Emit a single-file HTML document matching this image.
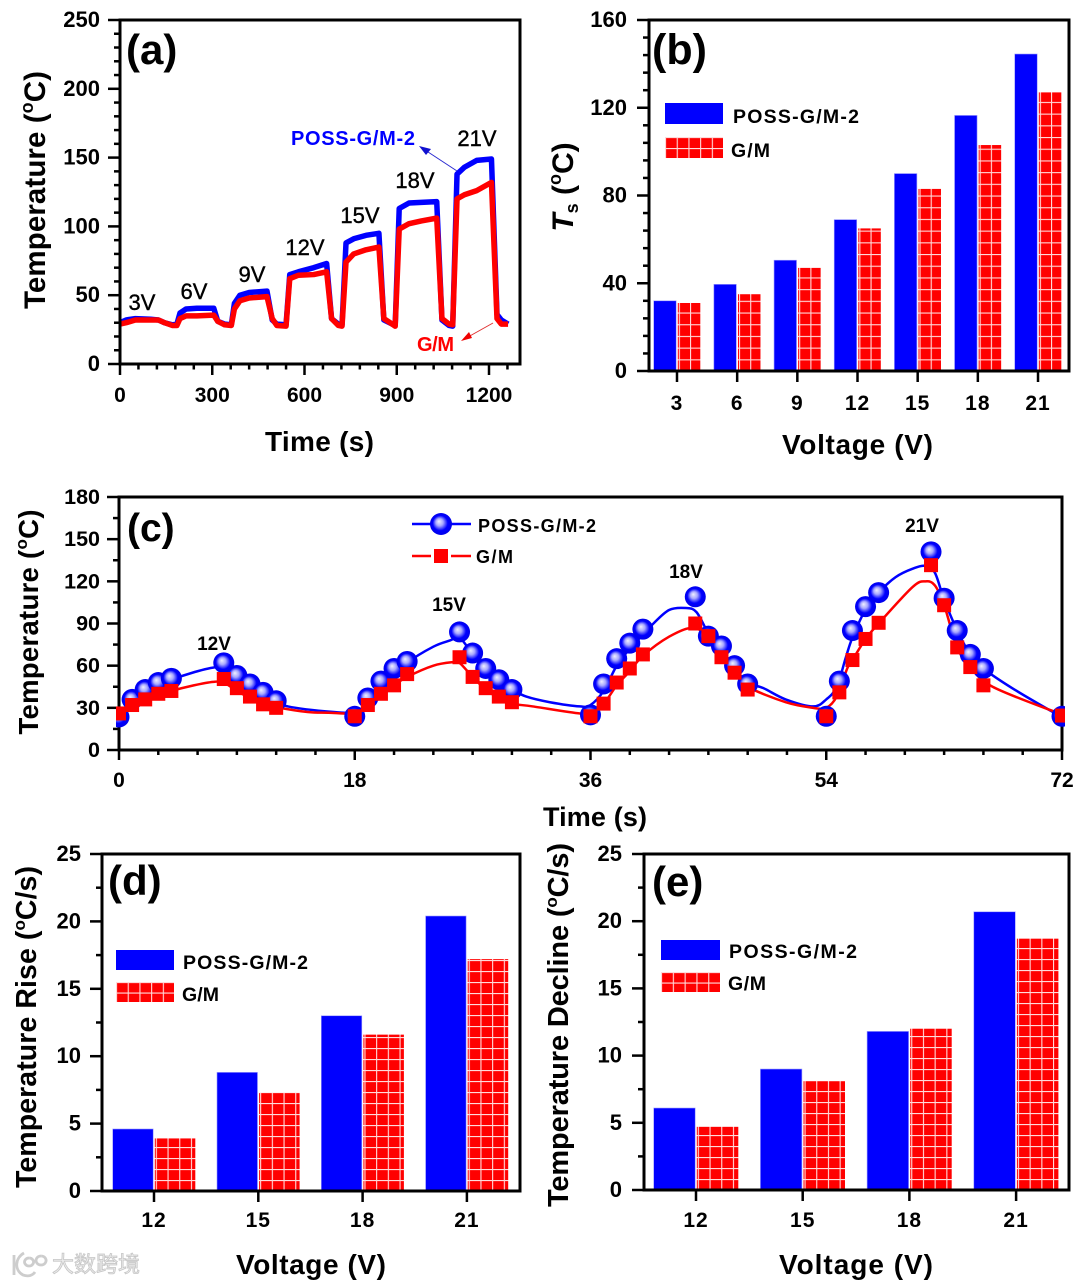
<!DOCTYPE html>
<html lang="en">
<head>
<meta charset="utf-8">
<title>Temperature response of POSS-G/M-2 and G/M</title>
<style>
html,body{margin:0;padding:0;background:#fff;}
svg{display:block;}
text{font-family:"Liberation Sans","Noto Sans CJK SC",sans-serif;font-weight:bold;fill:#000;}
.reg{font-weight:normal;stroke:#000;stroke-width:.4;}
</style>
</head>
<body>
<svg id="fig" xmlns="http://www.w3.org/2000/svg" width="1080" height="1284" viewBox="0 0 1080 1284">
  <defs>
    <radialGradient id="ball" cx="50%" cy="50%" r="52%" fx="40%" fy="38%">
      <stop offset="0" stop-color="#f0f0ff"/>
      <stop offset=".32" stop-color="#a8a8ff"/>
      <stop offset=".66" stop-color="#0000ff"/>
      <stop offset="1" stop-color="#0000e8"/>
    </radialGradient>
    <clipPath id="clipC"><rect x="116" y="490" width="949" height="263"/></clipPath>
  </defs>
  <rect width="1080" height="1284" fill="#fff"/>

  <g id="pa"></g>
  <g id="pb"></g>
  <g id="pc"></g>
  <g id="pd"></g>
  <g id="pe"></g>

  <g id="labels">
    <!-- panel a -->
    <text x="126" y="64" font-size="42">(a)</text>
    <text transform="translate(45,190) rotate(-90)" text-anchor="middle" font-size="29.500" textLength="238" lengthAdjust="spacing">Temperature (<tspan font-size="18" dy="-12">o</tspan><tspan dy="12">C)</tspan></text>
    <text x="265" y="451" font-size="28" textLength="109" lengthAdjust="spacing">Time (s)</text>
    <text class="reg" x="142" y="310" text-anchor="middle" font-size="22">3V</text>
    <text class="reg" x="194" y="299" text-anchor="middle" font-size="22">6V</text>
    <text class="reg" x="252" y="282" text-anchor="middle" font-size="22">9V</text>
    <text class="reg" x="305" y="255" text-anchor="middle" font-size="22">12V</text>
    <text class="reg" x="360" y="223" text-anchor="middle" font-size="22">15V</text>
    <text class="reg" x="415" y="188" text-anchor="middle" font-size="22">18V</text>
    <text class="reg" x="477" y="146" text-anchor="middle" font-size="22">21V</text>
    <text x="291" y="145" font-size="20" style="fill:#0000ff" textLength="124" lengthAdjust="spacing">POSS-G/M-2</text>
    <text x="417" y="351" font-size="20" style="fill:#ff0000" textLength="37" lengthAdjust="spacing">G/M</text>
    <path d="M457 171L425 150" stroke="#2a2ad0" stroke-width="1" fill="none"/>
    <path d="M419 146L431 149L426 155Z" fill="#1010d0"/>
    <path d="M493 323L468 337" stroke="#e03030" stroke-width="1" fill="none"/>
    <path d="M461 341L469 332L472 338Z" fill="#f00000"/>

    <!-- panel b -->
    <text x="652" y="64" font-size="43">(b)</text>
    <text transform="translate(573,187) rotate(-90)" text-anchor="middle" font-size="30"><tspan font-style="italic">T</tspan><tspan font-size="18" dy="5">s</tspan><tspan dy="-5"> (</tspan><tspan font-size="18" dy="-12">o</tspan><tspan dy="12">C)</tspan></text>
    <text x="782" y="454" font-size="28" textLength="151" lengthAdjust="spacing">Voltage (V)</text>
    <rect x="665" y="103" width="58" height="21" fill="#0000ff"/>
    <rect id="lgb" x="665" y="137" width="58" height="21" fill="#ff0000"/>
    <text x="733" y="123" font-size="19.500" textLength="126" lengthAdjust="spacing">POSS-G/M-2</text>
    <text x="731" y="157" font-size="19.500" textLength="39" lengthAdjust="spacing">G/M</text>

    <!-- panel c -->
    <text x="127" y="541" font-size="39">(c)</text>
    <text transform="translate(38,622) rotate(-90)" text-anchor="middle" font-size="27.500" textLength="225" lengthAdjust="spacing">Temperature (<tspan font-size="17" dy="-11">o</tspan><tspan dy="11">C)</tspan></text>
    <text x="543" y="826" font-size="27" textLength="104" lengthAdjust="spacing">Time (s)</text>
    <path d="M412 524H471" stroke="#0000ff" stroke-width="2.5"/>
    <circle cx="441" cy="524" r="11" fill="url(#ball)"/>
    <path d="M412 556H431M451 556H471" stroke="#ff0000" stroke-width="2.5"/>
    <rect x="434" y="549" width="14" height="14" fill="#ff0000"/>
    <text x="478" y="532" font-size="18" textLength="118" lengthAdjust="spacing">POSS-G/M-2</text>
    <text x="476" y="563" font-size="18" textLength="37" lengthAdjust="spacing">G/M</text>
    <text x="214" y="650" text-anchor="middle" font-size="19">12V</text>
    <text x="449" y="611" text-anchor="middle" font-size="19">15V</text>
    <text x="686" y="578" text-anchor="middle" font-size="19">18V</text>
    <text x="922" y="532" text-anchor="middle" font-size="19">21V</text>

    <!-- panel d -->
    <text x="108" y="895" font-size="42">(d)</text>
    <text transform="translate(36,1027) rotate(-90)" text-anchor="middle" font-size="28.500" textLength="322" lengthAdjust="spacing">Temperature Rise (<tspan font-size="17" dy="-11">o</tspan><tspan dy="11">C/s)</tspan></text>
    <text x="236" y="1274" font-size="28" textLength="150" lengthAdjust="spacing">Voltage (V)</text>
    <rect x="116" y="950" width="58" height="20" fill="#0000ff"/>
    <rect id="lgd" x="116" y="982" width="58" height="20" fill="#ff0000"/>
    <text x="183" y="969" font-size="19.500" textLength="125" lengthAdjust="spacing">POSS-G/M-2</text>
    <text x="182" y="1001" font-size="19.500" textLength="37" lengthAdjust="spacing">G/M</text>

    <!-- panel e -->
    <text x="652" y="896" font-size="42">(e)</text>
    <text transform="translate(568,1025) rotate(-90)" text-anchor="middle" font-size="29" textLength="364" lengthAdjust="spacing">Temperature Decline (<tspan font-size="17" dy="-11">o</tspan><tspan dy="11">C/s)</tspan></text>
    <text x="779" y="1274" font-size="28" textLength="154" lengthAdjust="spacing">Voltage (V)</text>
    <rect x="661" y="940" width="59" height="20" fill="#0000ff"/>
    <rect id="lge" x="661" y="972" width="59" height="20" fill="#ff0000"/>
    <text x="729" y="958" font-size="19.500" textLength="128" lengthAdjust="spacing">POSS-G/M-2</text>
    <text x="728" y="990" font-size="19.500" textLength="38" lengthAdjust="spacing">G/M</text>

    <!-- watermark -->
    <g>
      <path d="M14 1255v20M24 1253c-9 5-10 17-1 22c6 2 10 0 12-3M29 1258a4.500 4 0 1 0 .1 0M41 1256a5 4.500 0 1 0 .1 0" fill="none" stroke="#cdcdcd" stroke-width="2.800"/>
      <text x="52" y="1272" font-size="22" style="fill:#ececec;stroke:#c6c6c6;stroke-width:.8;font-weight:normal" textLength="88" lengthAdjust="spacing">大数跨境</text>
    </g>
  </g>
</svg>

<script>
// ---------- Panel (a) data ----------
const timeA = [0,20,50,100,125,145,170,185,195,215,250,305,318,340,362,372,390,420,478,495,510,540,552,580,630,672,688,710,722,735,760,800,842,858,885,895,908,940,980,1030,1047,1070,1082,1096,1120,1160,1208,1226,1240,1262];
const blueA = [30,32,33,32.5,32,30,28.5,29,37,40,40.5,40.5,31,29,28.5,44,50,52,53,32,29,28.5,65,67,70,73,33,29,28.5,88,91,93.5,95,32,29,28.5,113,117,117.5,118,32,28,27.5,138,143,148,149,36,32,29];
const redA = [29,30,32,32,32,30,28,28,33,35,35,35.5,31,28.5,28,40,46,48,49,33,28,27.5,62,64.5,65,67,33,28,27.5,74,80,83,85,33,29,27.5,98,102,104,106,33,29,28.5,120,123,126,132,33,29,29];
const xTicksA = [0,300,600,900,1200];
const yTicksA = [0,50,100,150,200,250];

// ---------- Panel (b) data ----------
const voltagesB = ['3','6','9','12','15','18','21'];
const blueB = [32,39.5,50.5,69,90,116.5,144.5];
const redB = [31,35,47,65,83,103,127];
const yTicksB = [0,40,80,120,160];

// ---------- Panel (c) data ----------
const timeC = [0,1,2,3,4,8,9,10,11,12,18,19,20,21,22,26,27,28,29,30,36,37,38,39,40,44,45,46,47,48,54,55,56,57,58,62,63,64,65,66,72];
const blueC = [23.5,36,43,48,51,62,53,47,41,35,24,37,49,58,63,84,69,58,50,43,25,47,65,76,86,109,81,74,60,47,24,49,85,102,112,141,108,85,68,58,24];
const redC = [26,32,36,40,42,50.5,44,38,32.5,30,24,32,40,46,54,66,52,44,38,34,24,33,48,58,68,90,81,66,55,43,24,41,64,79,90.5,131.5,103,73,59,46,24.5];
const fitTimeBlueC = [0,1,2,4,7.5,9,10,11,12,12.9,16.4,18,19,20,21,22,24,25.3,26,27,28,29,30,31.1,32.9,35.2,36,37,38,39,40,40.7,42,43.3,44.1,45,46,47,48,49.2,50.9,53,54,54.8,55.5,56,57,58,59.3,60.6,61.6,62.3,63,64,65,66,68.2,71.500,72];
const fitBlueC = [26,34,40,50,59,53,47,41,36,31,27,27,32,44,52,62,73.5,78,80,68,56,49,43,38,34,31,32,42,60,72,82,89,99.6,101,98,83,70,58,48,44,36,31,36,45,66,80,100,112,123,129,131,126,107,85,68,58,44,26,24];
const fitTimeRedC = [0,2,4,5.700,7.200,8,9,10,11,12,14.400,16,18,19,20,21,22,24,25.500,26,27,28,29,30,31.600,35.200,36,37,38,39,40,42,43.800,45,46,47,48,50.900,53,54,54.800,55.600,56,57,58,60.600,61.600,62.300,63,64,65,66.700,71.500,72];
const fitRedC = [28,36,42,46,48.5,48,42,37,33,30.5,27,26.5,26,30,38,46,52,60,62.5,62,52,43,37,33,31,26,28,33,46,56,67,80.6,87,80,66,55,45,34,30,30,38,58,64,79,90,116,120,117,103,73,59,45,27,26];
const xTicksC = [0,18,36,54,72];
const yTicksC = [0,30,60,90,120,150,180];

// ---------- Panel (d) data ----------
const voltagesD = ['12','15','18','21'];
const blueD = [4.6,8.8,13,20.4];
const redD = [3.9,7.3,11.6,17.2];
const yTicksD = [0,5,10,15,20,25];

// ---------- Panel (e) data ----------
const voltagesE = ['12','15','18','21'];
const blueE = [6.1,9,11.8,20.7];
const redE = [4.7,8.1,12,18.7];
const yTicksE = [0,5,10,15,20,25];

const NS = 'http://www.w3.org/2000/svg';
function mk(parent, tag, attrs){
  const el = document.createElementNS(NS, tag);
  for (const k in attrs) el.setAttribute(k, attrs[k]);
  
  parent.appendChild(el);
  return el;
}

// Axis scale builders
function linear(d0, d1, r0, r1){ return v => r0 + (v - d0) * (r1 - r0) / (d1 - d0); }

function drawFrame(g, L, T, R, B){
  const el = mk(g, 'rect', {x:L, y:T, width:R-L, height:B-T, fill:'none', stroke:'#000', 'stroke-width':3});
  
}
function yAxis(g, y, L, ticks, minorStep, fs, labelX, maj, labelShift){
  const top = ticks[ticks.length-1];
  for (let v = ticks[0]; v <= top + 1e-6; v += minorStep){
    const isMajor = ticks.some(t => Math.abs(t - v) < 1e-6);
    const len = isMajor ? maj : maj / 2;
    const tick = mk(g, 'path', {d:`M${L} ${y(v)}H${L-len}`, stroke:'#000', 'stroke-width':2.5});
    
  }
  ticks.forEach(v => {
    const t = mk(g, 'text', {x:labelX, y:y(v)+labelShift, 'text-anchor':'end', 'font-size':fs});
    
    t.textContent = v;
  });
}
function xAxisLinear(g, x, B, ticks, minorStep, maxV, fs, labelY, maj){
  for (let v = ticks[0]; v <= maxV + 1e-6; v += minorStep){
    const isMajor = ticks.some(t => Math.abs(t - v) < 1e-6);
    const tick = mk(g, 'path', {d:`M${x(v)} ${B}V${B+(isMajor?maj:maj/2)}`, stroke:'#000', 'stroke-width':2.5});
    
  }
  ticks.forEach(v => {
    const t = mk(g, 'text', {x:x(v), y:labelY, 'text-anchor':'middle', 'font-size':fs});
    
    t.textContent = v;
  });
}
let patId = 0;
function gridFill(x, y, cw, ch){
  patId++;
  const defs = document.querySelector('defs');
  const p = document.createElementNS(NS, 'pattern');
  p.setAttribute('id', 'grid' + patId);
  p.setAttribute('patternUnits', 'userSpaceOnUse');
  p.setAttribute('x', x);
  p.setAttribute('y', y);
  p.setAttribute('width', cw);
  p.setAttribute('height', ch);
  const bg = document.createElementNS(NS, 'rect');
  bg.setAttribute('width', cw);
  bg.setAttribute('height', ch);
  bg.setAttribute('fill', '#ff0000');
  p.appendChild(bg);
  const ln = document.createElementNS(NS, 'path');
  ln.setAttribute('d', `M0 0.5H${cw}M0.5 0V${ch}`);
  ln.setAttribute('stroke', '#ffdada');
  ln.setAttribute('stroke-width', 1.2);
  p.appendChild(ln);
  defs.appendChild(p);
  return 'url(#grid' + patId + ')';
}
function barPanel(g, cats, blue, red, y, B, cx, barW, gap, fs, labelY, cw, ch){
  cats.forEach((c, i) => {
    const xc = cx(i);
    const bb = mk(g, 'rect', {x:xc-barW-gap, y:y(blue[i]), width:barW, height:B-y(blue[i]), fill:'#0000ff', stroke:'#9a9aff', 'stroke-width':.6});
    
    const rx = xc + gap;
    const rb = mk(g, 'rect', {x:rx, y:y(red[i]), width:barW, height:B-y(red[i]), fill:gridFill(rx-cw+1, B, cw, ch)});
    
    const tick = mk(g, 'path', {d:`M${xc} ${B}V${B+11}`, stroke:'#000', 'stroke-width':2.5});
    
    const t = mk(g, 'text', {x:xc, y:labelY, 'text-anchor':'middle', 'font-size':fs, 'letter-spacing':1});
    
    t.textContent = c;
  });
}
function smooth(xs, ys){
  let d = `M${xs[0]} ${ys[0]}`;
  for (let i = 0; i < xs.length-1; i++){
    const x0 = xs[Math.max(i-1,0)], y0 = ys[Math.max(i-1,0)];
    const x1 = xs[i], y1 = ys[i], x2 = xs[i+1], y2 = ys[i+1];
    const x3 = xs[Math.min(i+2,xs.length-1)], y3 = ys[Math.min(i+2,ys.length-1)];
    d += `C${x1+(x2-x0)/6} ${y1+(y2-y0)/6} ${x2-(x3-x1)/6} ${y2-(y3-y1)/6} ${x2} ${y2}`;
  }
  return d;
}

// ---------- Panel (a) ----------
(function(){
  const g = document.getElementById('pa');
  const x = linear(0, 1200, 120, 489);
  const y = linear(0, 250, 364, 20);
  const pts = s => timeA.map((t,i) => x(t) + ',' + y(s[i])).join(' ');
  const b = mk(g, 'polyline', {points:pts(blueA), fill:'none', stroke:'#0000ff', 'stroke-width':5.5, 'stroke-linejoin':'round'});
  
  const r = mk(g, 'polyline', {points:pts(redA), fill:'none', stroke:'#ff0000', 'stroke-width':5.5, 'stroke-linejoin':'round'});
  
  drawFrame(g, 120, 20, 520, 364);
  yAxis(g, y, 120, yTicksA, 10, 22, 100, 12, 7);
  xAxisLinear(g, x, 364, xTicksA, 60, 1260, 21, 402, 11);
})();

// ---------- Panel (b) ----------
(function(){
  const g = document.getElementById('pb');
  const y = linear(0, 160, 371, 20);
  barPanel(g, voltagesB, blueB, redB, y, 371, i => 677 + i * 60.17, 22.500, 0.8, 21, 410, 11.2, 11.7);
  drawFrame(g, 649, 20, 1069, 371);
  yAxis(g, y, 649, yTicksB, 8, 22, 627, 12, 7);
})();

// ---------- Panel (c) ----------
(function(){
  const g = document.getElementById('pc');
  const x = linear(0, 72, 119, 1062);
  const y = linear(0, 180, 750, 497);
  drawFrame(g, 119, 497, 1062, 750);
  yAxis(g, y, 119, yTicksC, 15, 21.5, 100, 12, 7);
  xAxisLinear(g, x, 750, xTicksC, 3, 72, 21, 787, 10);
  const clip = mk(g, 'g', {'clip-path':'url(#clipC)'});
  
  const fb = mk(clip, 'path', {d:smooth(fitTimeBlueC.map(x), fitBlueC.map(y)), fill:'none', stroke:'#0000ff', 'stroke-width':2.5});
  
  const fr = mk(clip, 'path', {d:smooth(fitTimeRedC.map(x), fitRedC.map(y)), fill:'none', stroke:'#ff0000', 'stroke-width':2.5});
  
  timeC.forEach((t,i) => {
    const c = mk(clip, 'circle', {cx:x(t), cy:y(blueC[i]), r:10.5, fill:'url(#ball)'});
    
  });
  timeC.forEach((t,i) => {
    const s = mk(clip, 'rect', {x:x(t)-7, y:y(redC[i])-7, width:14, height:14, fill:'#ff0000'});
    
  });
})();

// ---------- Panel (d) ----------
(function(){
  const g = document.getElementById('pd');
  const y = linear(0, 25, 1191, 854);
  barPanel(g, voltagesD, blueD, redD, y, 1191, i => 154 + i * 104.3, 40.500, 0.8, 21, 1227, 11.7, 11);
  drawFrame(g, 102, 854, 520, 1191);
  yAxis(g, y, 102, yTicksD, 2.5, 22, 81, 12, 7);
})();

// ---------- Panel (e) ----------
(function(){
  const g = document.getElementById('pe');
  const y = linear(0, 25, 1190, 854);
  barPanel(g, voltagesE, blueE, redE, y, 1190, i => 696 + i * 106.7, 41.500, 0.8, 21, 1227, 11.7, 11);
  drawFrame(g, 644, 854, 1069, 1190);
  yAxis(g, y, 644, yTicksE, 2.5, 22, 622, 12, 7);
})();

// Legend swatch grid fills
document.getElementById('lgb').setAttribute('fill', gridFill(665, 137, 11.700, 11));
document.getElementById('lgd').setAttribute('fill', gridFill(116, 982, 11.700, 10.500));
document.getElementById('lge').setAttribute('fill', gridFill(661, 972, 11.800, 10.500));
</script>
</body>
</html>
